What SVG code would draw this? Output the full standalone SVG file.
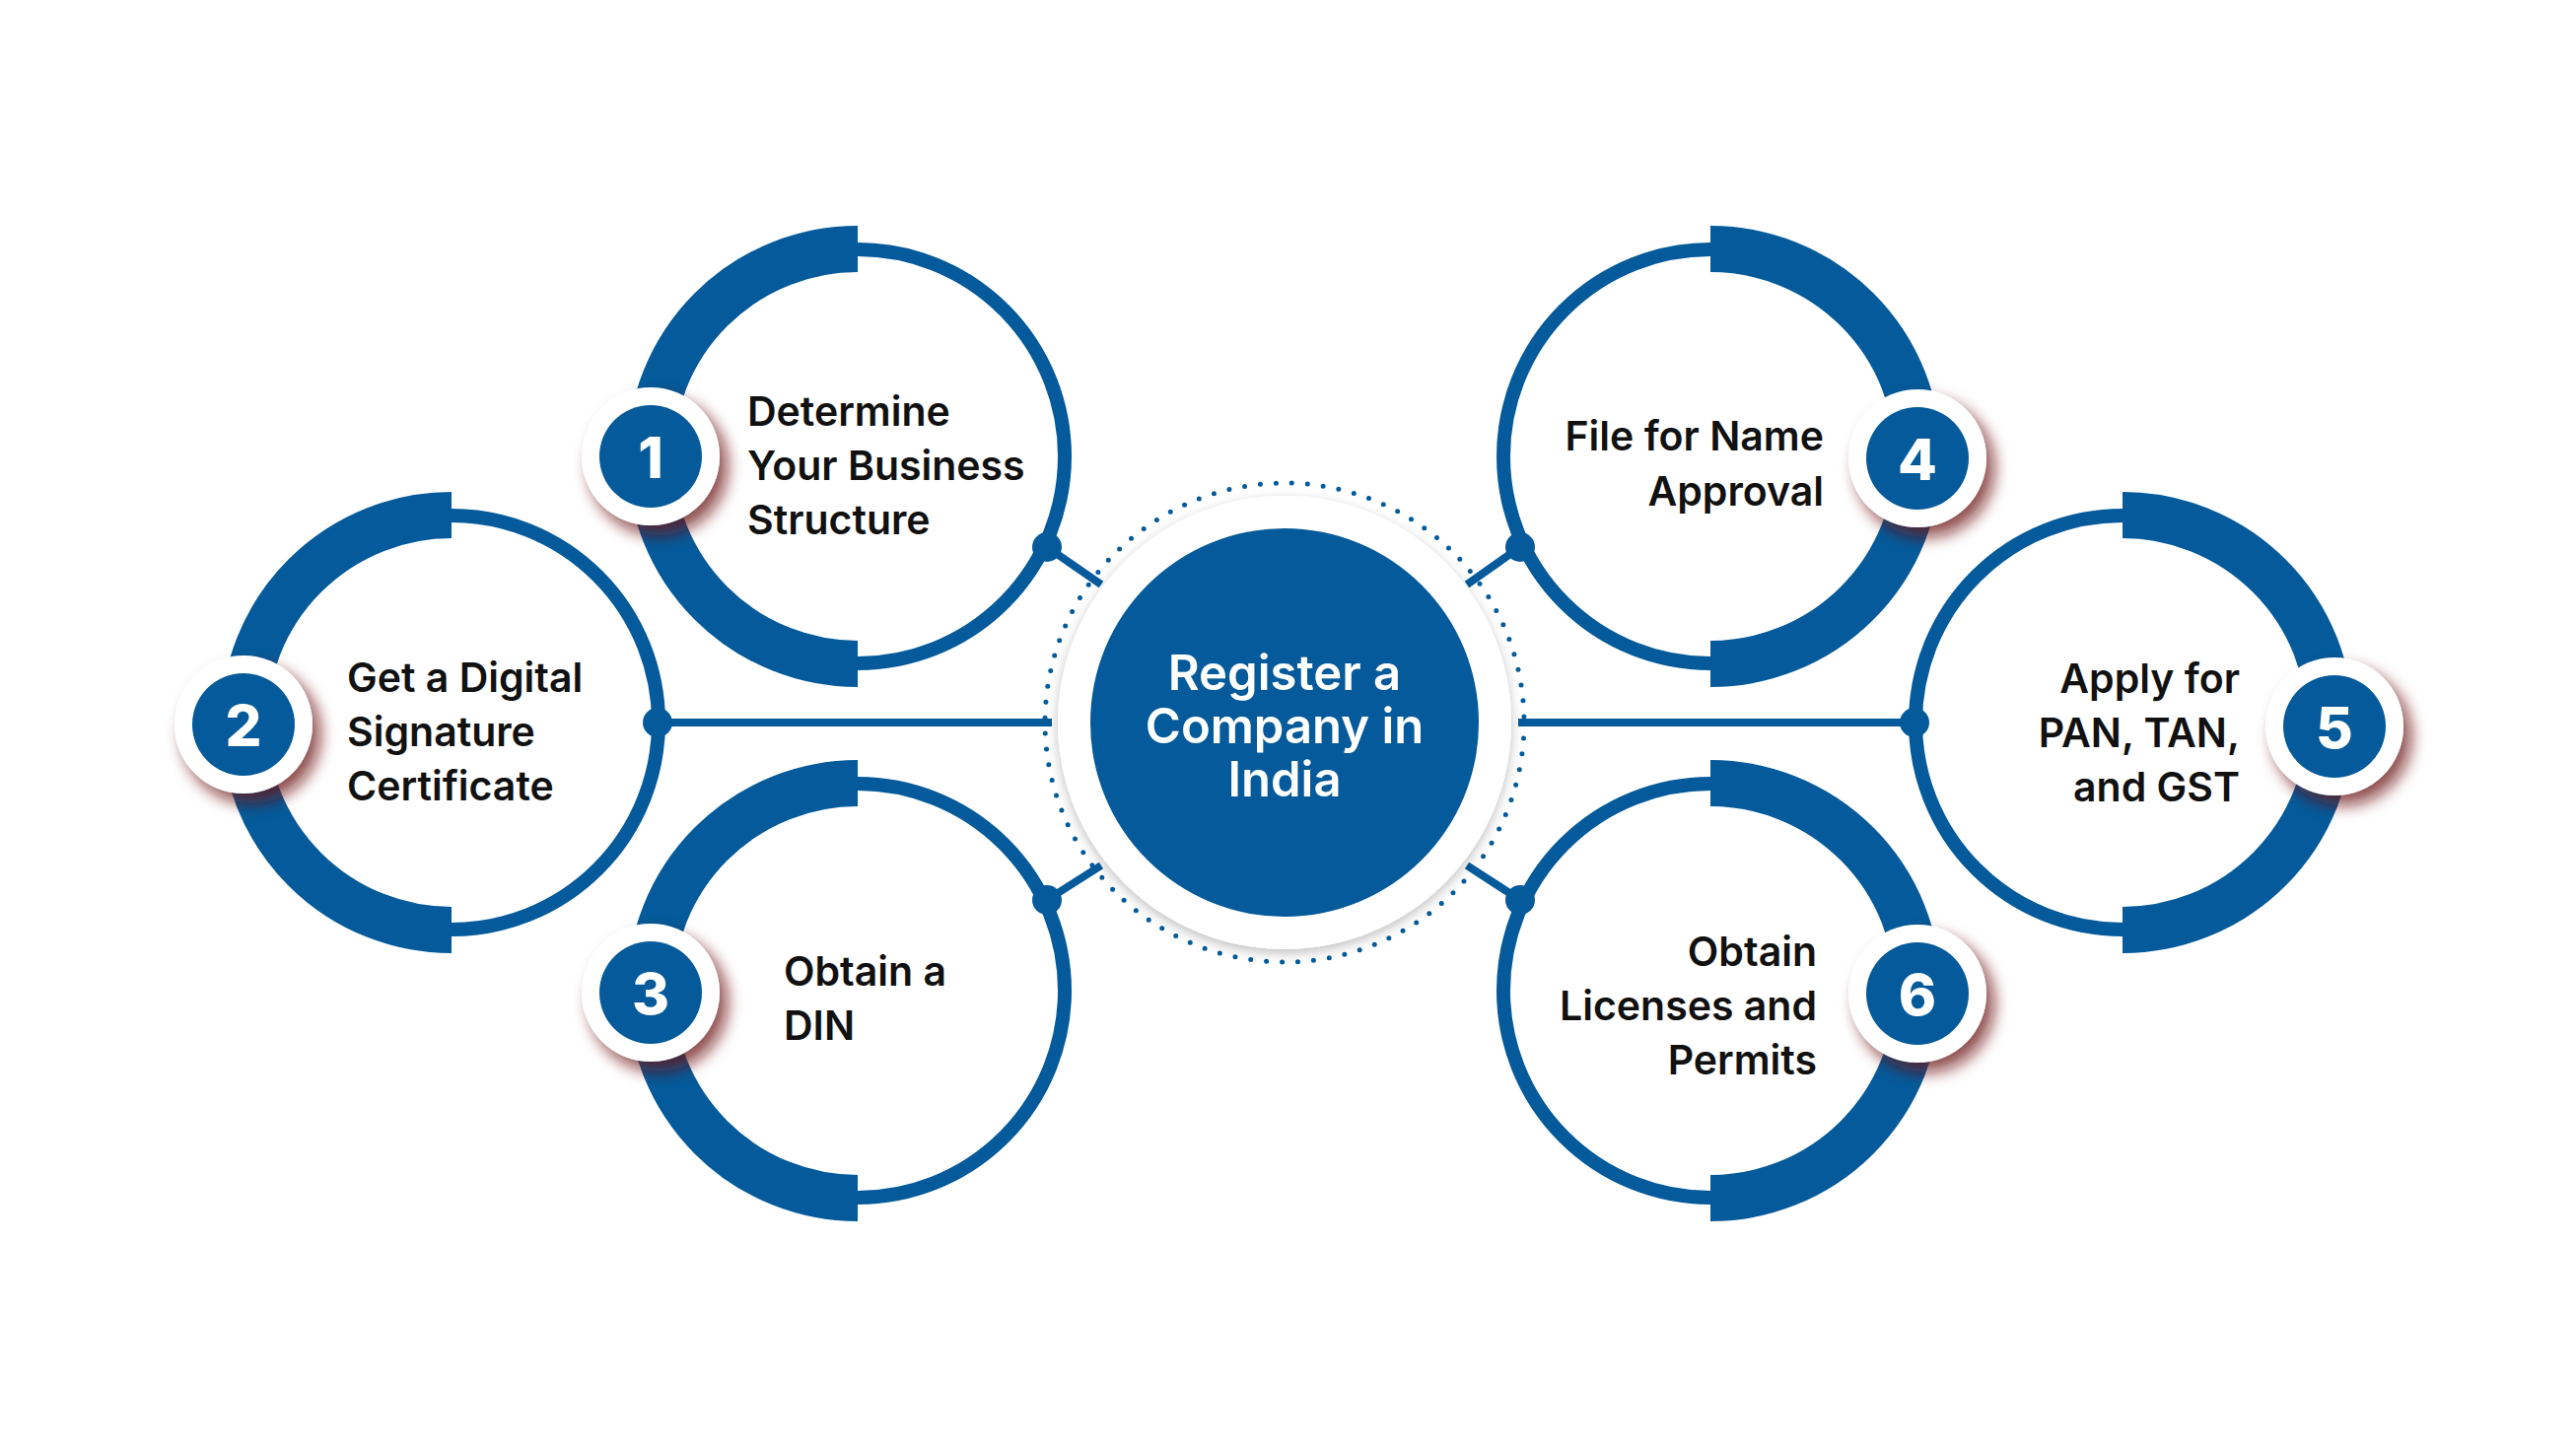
<svg xmlns="http://www.w3.org/2000/svg" width="2613" height="1470" viewBox="0 0 2613 1470">
<defs>
<style>
.thin{fill:none;stroke:#045a9a;stroke-width:14}
.thick{fill:none;stroke:#045a9a;stroke-width:47}
.lbl{font-family:Inter,"Liberation Sans",sans-serif;font-weight:600;font-size:41px;fill:#111}
.num{font-family:Inter,"Liberation Sans",sans-serif;font-weight:800;font-size:58px;fill:#fff;text-anchor:middle}
.conn{stroke:#045a9a;stroke-width:8;fill:none}
.dot{fill:#045a9a}
</style>
<filter id="sh" x="-50%" y="-50%" width="200%" height="200%">
<feDropShadow dx="8" dy="10" stdDeviation="8" flood-color="#6a0f0f" flood-opacity="0.75"/>
</filter>
<filter id="sh2" x="-30%" y="-30%" width="160%" height="160%">
<feDropShadow dx="0" dy="4" stdDeviation="6" flood-color="#000" flood-opacity="0.25"/>
</filter>
</defs>
<rect width="2613" height="1470" fill="#fff"/>
<g id="connectors">
<line class="conn" x1="1062" y1="555" x2="1117" y2="593"/>
<line class="conn" x1="667" y1="733" x2="1067" y2="733"/>
<line class="conn" x1="1062" y1="913" x2="1117" y2="878"/>
<line class="conn" x1="1542" y1="555" x2="1488" y2="593"/>
<line class="conn" x1="1540" y1="733" x2="1942" y2="733"/>
<line class="conn" x1="1542" y1="913" x2="1488" y2="878"/>
<circle class="dot" cx="1062" cy="555" r="15"/>
<circle class="dot" cx="667" cy="733" r="15"/>
<circle class="dot" cx="1062" cy="913" r="15"/>
<circle class="dot" cx="1542" cy="555" r="15"/>
<circle class="dot" cx="1942" cy="733" r="15"/>
<circle class="dot" cx="1542" cy="913" r="15"/>
</g>
<g id="center">
<circle cx="1303" cy="733" r="243" fill="none" stroke="#045a9a" stroke-width="5" stroke-linecap="round" stroke-dasharray="0 16"/>
<circle cx="1303" cy="733" r="230" fill="#fff" filter="url(#sh2)"/>
<circle cx="1303" cy="733" r="197" fill="#045a9a"/>
<text font-family="Inter,'Liberation Sans',sans-serif" font-weight="600" font-size="49" fill="#fff" text-anchor="middle"><tspan x="1303" y="700">Register a</tspan><tspan x="1303" y="754">Company in</tspan><tspan x="1303" y="808">India</tspan></text>
</g>
<g id="node1">
<circle class="thin" cx="870" cy="463" r="210"/>
<path class="thick" d="M870 252.5 A210.5 210.5 0 0 0 870 673.5"/>
<circle cx="660" cy="463" r="70" fill="#fff" filter="url(#sh)"/>
<circle cx="660" cy="463" r="52" fill="#045a9a"/>
<text class="num" x="660" y="485">1</text>
<text class="lbl"><tspan x="758" y="432">Determine</tspan><tspan x="758" y="487">Your Business</tspan><tspan x="758" y="542">Structure</tspan></text>
</g>
<g id="node2">
<circle class="thin" cx="458" cy="733" r="210"/>
<path class="thick" d="M458 522.5 A210.5 210.5 0 0 0 458 943.5"/>
<circle cx="247" cy="735" r="70" fill="#fff" filter="url(#sh)"/>
<circle cx="247" cy="735" r="52" fill="#045a9a"/>
<text class="num" x="247" y="757">2</text>
<text class="lbl"><tspan x="352" y="702">Get a Digital</tspan><tspan x="352" y="757">Signature</tspan><tspan x="352" y="812">Certificate</tspan></text>
</g>
<g id="node3">
<circle class="thin" cx="870" cy="1005" r="210"/>
<path class="thick" d="M870 794.5 A210.5 210.5 0 0 0 870 1215.5"/>
<circle cx="660" cy="1007" r="70" fill="#fff" filter="url(#sh)"/>
<circle cx="660" cy="1007" r="52" fill="#045a9a"/>
<text class="num" x="660" y="1029">3</text>
<text class="lbl"><tspan x="795" y="1000">Obtain a</tspan><tspan x="795" y="1055">DIN</tspan></text>
</g>
<g id="node4">
<circle class="thin" cx="1735" cy="463" r="210"/>
<path class="thick" d="M1735 252.5 A210.5 210.5 0 0 1 1735 673.5"/>
<circle cx="1945" cy="465" r="70" fill="#fff" filter="url(#sh)"/>
<circle cx="1945" cy="465" r="52" fill="#045a9a"/>
<text class="num" x="1945" y="487">4</text>
<text class="lbl" text-anchor="end"><tspan x="1850" y="457">File for Name</tspan><tspan x="1850" y="513">Approval</tspan></text>
</g>
<g id="node5">
<circle class="thin" cx="2153" cy="733" r="210"/>
<path class="thick" d="M2153 522.5 A210.5 210.5 0 0 1 2153 943.5"/>
<circle cx="2368" cy="737" r="70" fill="#fff" filter="url(#sh)"/>
<circle cx="2368" cy="737" r="52" fill="#045a9a"/>
<text class="num" x="2368" y="759">5</text>
<text class="lbl" text-anchor="end"><tspan x="2272" y="703">Apply for</tspan><tspan x="2272" y="758">PAN, TAN,</tspan><tspan x="2272" y="813">and GST</tspan></text>
</g>
<g id="node6">
<circle class="thin" cx="1735" cy="1005" r="210"/>
<path class="thick" d="M1735 794.5 A210.5 210.5 0 0 1 1735 1215.5"/>
<circle cx="1945" cy="1008" r="70" fill="#fff" filter="url(#sh)"/>
<circle cx="1945" cy="1008" r="52" fill="#045a9a"/>
<text class="num" x="1945" y="1030">6</text>
<text class="lbl" text-anchor="end"><tspan x="1843" y="980">Obtain</tspan><tspan x="1843" y="1035">Licenses and</tspan><tspan x="1843" y="1090">Permits</tspan></text>
</g>
</svg>
